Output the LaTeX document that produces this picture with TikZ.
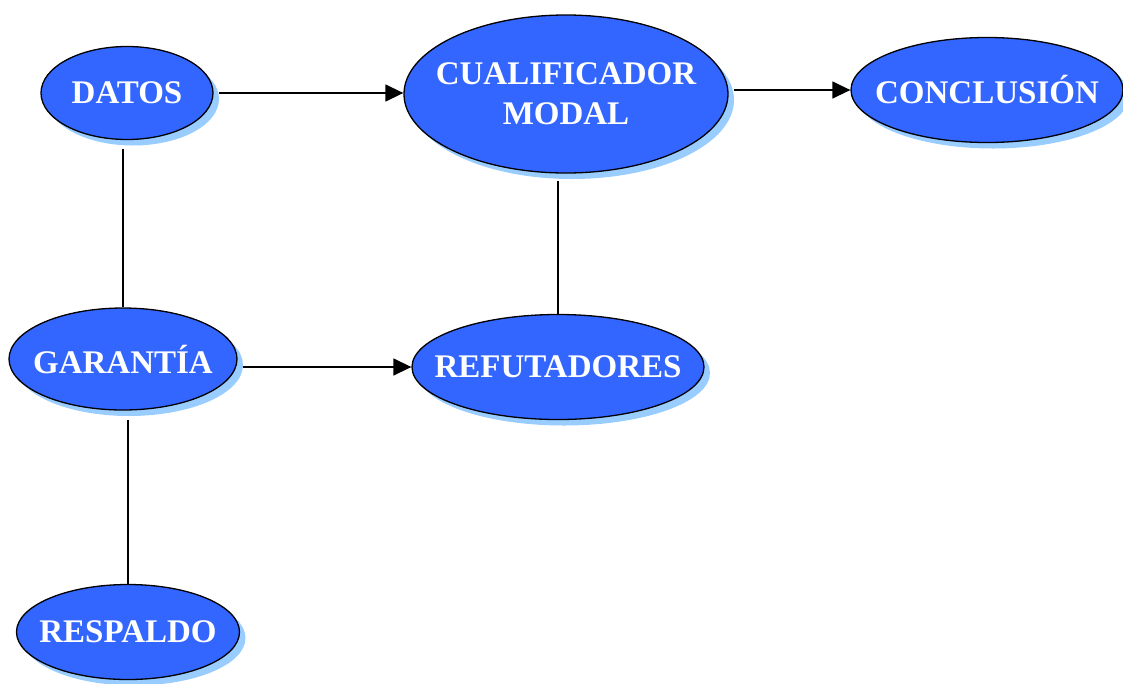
\documentclass[tikz,border=0pt]{standalone}
\usepackage{fontspec}
\setmainfont{Liberation Serif}
\usepackage{xcolor}
\usepackage{tikz}
\usetikzlibrary{shapes.geometric, shadows, arrows.meta}
\definecolor{nodeblue}{RGB}{51, 102, 255}
\definecolor{shadowblue}{RGB}{153, 204, 255}
\newcommand{\claimtext}[1]{\makebox[0pt]{#1}}

\begin{document}
\begin{tikzpicture}[
			x=1pt, y=-1pt,
			claim/.style={ellipse, fill=nodeblue, draw=black, line width=1.3pt, inner sep=0pt,
				text=white, font=\fontsize{33}{40}\selectfont\bfseries, align=center,
				drop shadow={shadow xshift=6pt, shadow yshift=-6pt, fill=shadowblue, opacity=1}},
			link/.style={line width=1.4pt, draw=black},
			arrow/.style={link, -{Triangle[length=18pt, width=17pt]}}
		]
		\useasboundingbox (0,0) rectangle (1123,683);

		\node (datos) [claim, minimum width=172pt, minimum height=93pt] at (127,93) {\claimtext{DATOS}};
		\node (cual) [claim, minimum width=324pt, minimum height=158pt] at (566,94) {\claimtext{CUALIFICADOR}\\\claimtext{MODAL}};
		\node (concl) [claim, minimum width=272pt, minimum height=105pt] at (987,90) {\claimtext{CONCLUSIÓN}};

		\node (garantia) [claim, minimum width=228pt, minimum height=102pt] at (123,359) {\claimtext{GARANTÍA}};
		\node (refut) [claim, minimum width=292pt, minimum height=105pt] at (558,367) {\claimtext{REFUTADORES}};

		\node (respaldo) [claim, minimum width=223pt, minimum height=95pt] at (128,632) {\claimtext{RESPALDO}};

		\draw[arrow, shorten <=5pt] (datos.east) -- (datos.east -| cual.west);
		\draw[arrow, shorten <=5pt] (cual.east |- concl.west) -- (concl.west);
		\draw[arrow, shorten <=5pt] (garantia.east |- refut.west) -- (refut.west);

		\draw[link, shorten <=9pt] (garantia.north |- datos.south) -- (garantia.north);
		\draw[link, shorten <=7pt] (refut.north |- cual.south) -- (refut.north);
		\draw[link, shorten <=9pt] (respaldo.north |- garantia.south) -- (respaldo.north);

	\end{tikzpicture}
\end{document}
